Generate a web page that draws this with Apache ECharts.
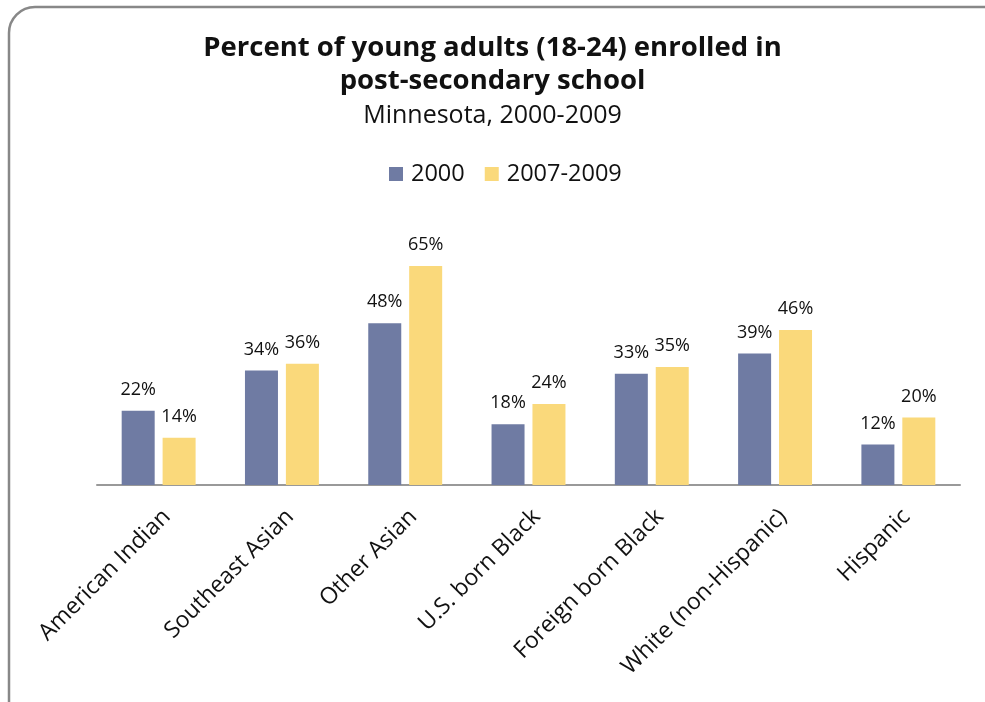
<!DOCTYPE html>
<html>
<head>
    <meta charset="utf-8">
    <title>Post-secondary enrollment</title>
    <script src="https://cdn.jsdelivr.net/npm/echarts@6/dist/echarts.min.js"></script>
    <style>
        html, body { margin: 0; padding: 0; background: #fff; }
        #chartmain { width: 985px; height: 702px; }
    </style>
</head>
<body>
<div id="chartmain"></div>
<script>
    var categories = ['American Indian', 'Southeast Asian', 'Other Asian', 'U.S. born Black',
        'Foreign born Black', 'White (non-Hispanic)', 'Hispanic'];
    var seriesNames = ['2000', '2007-2009'];
    var values2000 = [22, 34, 48, 18, 33, 39, 12];
    var values2007 = [14, 36, 65, 24, 35, 46, 20];

    var font = '"Open Sans", Lato, sans-serif';
    var labelOpt = {
        show: true,
        position: 'top',
        distance: 12,
        formatter: '{c}%',
        color: '#111',
        fontSize: 18,
        fontFamily: font
    };

    var option = {
        animation: false,
        title: {
            text: 'Percent of young adults (18-24) enrolled in\npost-secondary school',
            subtext: 'Minnesota, 2000-2009',
            left: 'center',
            top: 27,
            itemGap: 2,
            textStyle: {
                fontSize: 27.5,
                fontWeight: 'bold',
                color: '#111',
                lineHeight: 33,
                fontFamily: font
            },
            subtextStyle: {
                fontSize: 25,
                color: '#111',
                lineHeight: 32,
                fontFamily: font
            }
        },
        legend: {
            data: seriesNames,
            top: 157,
            left: 384,
            icon: 'rect',
            itemWidth: 14,
            itemHeight: 14,
            itemGap: 20,
            textStyle: { fontSize: 23.5, color: '#111', fontFamily: font, padding: [0, 0, 0, 3] }
        },
        graphic: [{
            type: 'rect',
            shape: { x: 9, y: 7, width: 1000, height: 720, r: 26 },
            style: { fill: 'none', stroke: '#888', lineWidth: 2.5 }
        }],
        grid: { left: 97, right: 25, top: 148, bottom: 217 },
        xAxis: [{
            type: 'category',
            data: categories,
            axisLine: { lineStyle: { color: '#999', width: 2 } },
            axisTick: { show: false },
            axisLabel: {
                rotate: 45,
                interval: 0,
                margin: 20,
                verticalAlign: 'top',
                fontSize: 23,
                color: '#111',
                fontFamily: font
            }
        }],
        yAxis: [{
            type: 'value',
            min: 0,
            max: 100,
            show: false,
            splitLine: { show: false }
        }],
        series: [
            {
                name: seriesNames[0],
                type: 'bar',
                data: values2000,
                barWidth: 33,
                barGap: '24%',
                itemStyle: { color: '#6f7ba3' },
                label: labelOpt
            },
            {
                name: seriesNames[1],
                type: 'bar',
                data: values2007,
                barWidth: 33,
                itemStyle: { color: '#fad97b' },
                label: labelOpt
            }
        ]
    };

    var myChart = echarts.init(document.getElementById('chartmain'));
    myChart.setOption(option);
</script>
</body>
</html>
